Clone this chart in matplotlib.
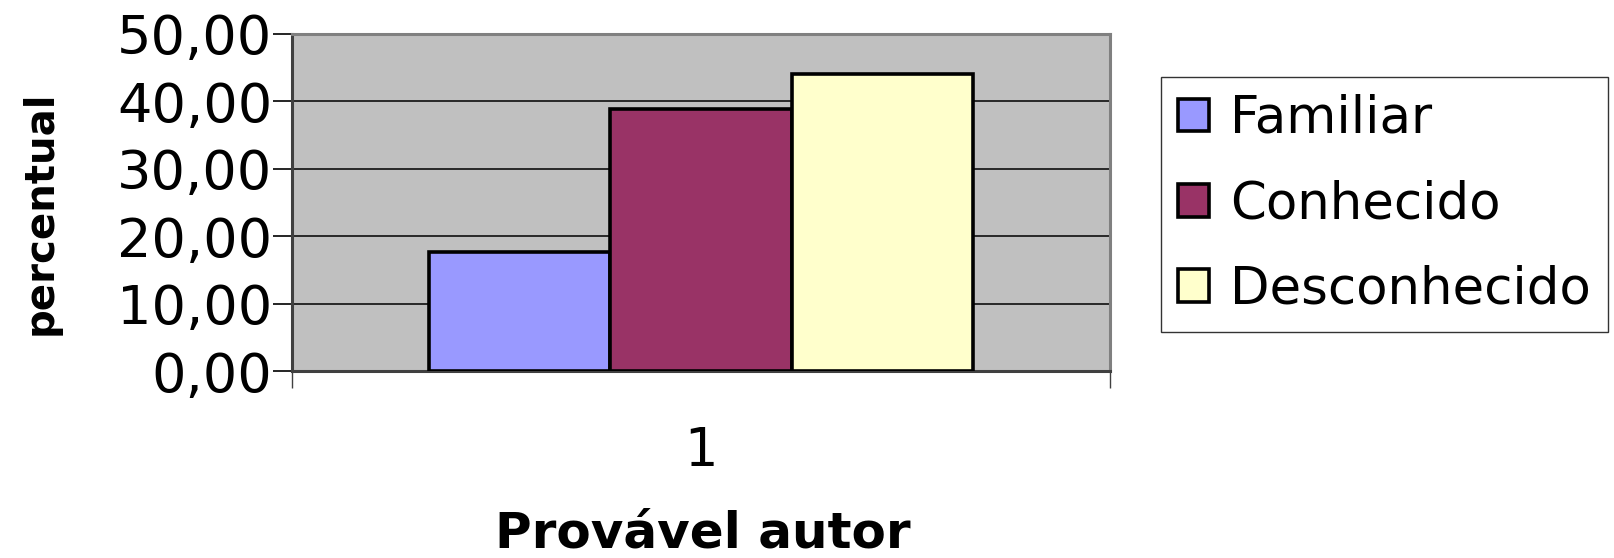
import numpy as np
import matplotlib
matplotlib.use('Agg')
import matplotlib.pyplot as plt
from matplotlib.ticker import FuncFormatter

# letras largas, como no original esticado
plt.rcParams['font.family'] = ['DejaVu Sans']

categorias = ['Familiar', 'Conhecido', 'Desconhecido']
valores = [17.6, 38.8, 44.1]
cores = ['#9999FF', '#993366', '#FFFFCC']
grupo = ['1']

fig = plt.figure(figsize=(16.14, 5.58), dpi=100)
ax = fig.add_axes([292/1614, 1 - 371/558, (1110-292)/1614, (371-34)/558])
ax.set_facecolor('#C0C0C0')

w = 0.222
x0 = 1
for i, (cat, v, c) in enumerate(zip(categorias, valores, cores)):
    ax.bar(x0 + (i - 1) * w, v, width=w, color=c, edgecolor='black',
           linewidth=2.6, label=cat, zorder=3)

ax.set_xlim(0.5, 1.5)
ax.set_ylim(0, 50)
ax.set_yticks(np.arange(0, 51, 10))
ax.yaxis.set_major_formatter(FuncFormatter(lambda v, p: f'{v:.2f}'.replace('.', ',')))
ax.grid(axis='y', color='black', linewidth=1.1, zorder=1)
ax.set_axisbelow(True)

ax.set_xticks([1])
ax.set_xticklabels(grupo)
ax.set_xticks([0.5, 1.5], minor=True)
ax.tick_params(axis='x', which='major', length=0, pad=39, labelsize=38)
ax.tick_params(axis='x', which='minor', length=12, width=1, color='#404040')
ax.tick_params(axis='y', length=14, width=1.2, pad=0, labelsize=39)

for s in ax.spines.values():
    s.set_color('#808080')
    s.set_linewidth(2.2)
ax.spines['bottom'].set_color('#404040')
ax.spines['left'].set_color('#404040')

fig.text(41/1614, 1 - 213/558, 'percentual', rotation=90, fontsize=29,
         fontweight='bold', ha='center', va='center')
fig.text(703/1614, 1 - 533/558, 'Provável autor', fontsize=36,
         fontweight='bold', ha='center', va='center')

leg = fig.legend(loc='upper left', bbox_to_anchor=(1161/1614, 1 - 77/558),
                 fontsize=37, frameon=True, fancybox=False, edgecolor='black',
                 handlelength=0.6, handleheight=0.6, handletextpad=0.42,
                 labelspacing=0.69, borderpad=0.33, borderaxespad=0)
leg.get_frame().set_linewidth(1.0)

fig.savefig('out.png', dpi=100)
